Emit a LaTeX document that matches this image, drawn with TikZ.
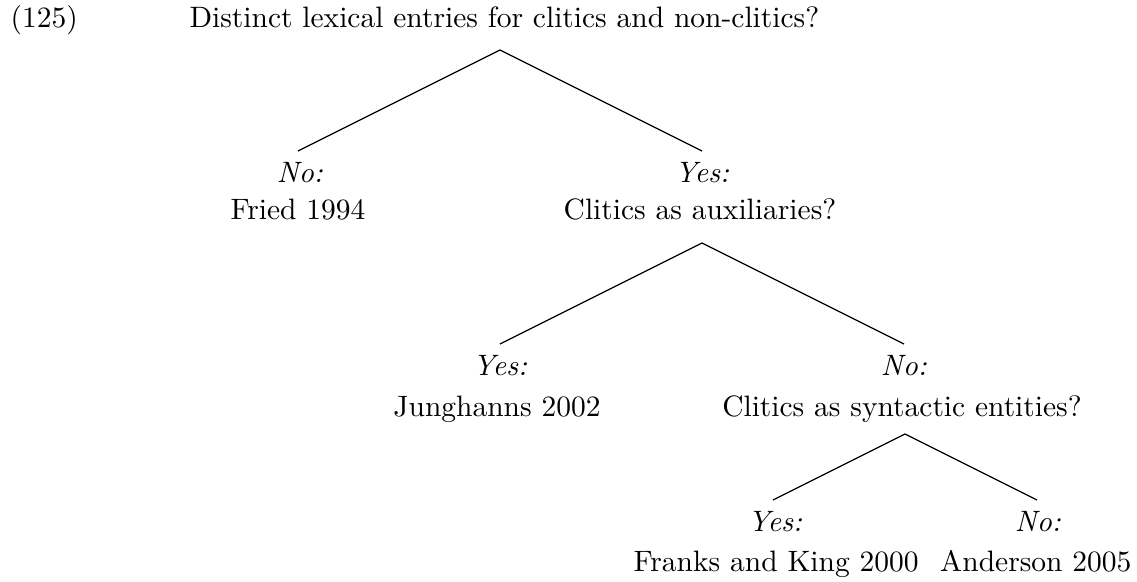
\documentclass[tikz,border=0pt]{standalone}
\begin{document}
\begin{tikzpicture}[x=0.339pt,y=-0.339pt,
  txt/.style={inner sep=0pt,anchor=base},
  lbl/.style={inner sep=0pt,anchor=base,font=\itshape},
  branch/.style={line width=0.4pt}]
\useasboundingbox (0,0) rectangle (1137,581);

% example number and root question
\node[txt,anchor=base west] (num) at (10,27) {(125)};
\node[txt,anchor=base west] (root) at (189,27) {Distinct lexical entries for clitics and non-clitics?};

% first split
\coordinate (top1) at (500,50);
\coordinate (endL1) at (298,151);
\coordinate (endR1) at (702,151);
\node[lbl] (no1) at (300,182) {No:};
\node[txt] (fried) at (298,219) {Fried 1994};
\node[lbl] (yes1) at (702,182) {Yes:};
\node[txt] (aux) at (700,219) {Clitics as auxiliaries?};
\draw[branch] (endL1) -- (top1) -- (endR1);

% second split
\coordinate (top2) at (702,243);
\coordinate (endL2) at (500,344);
\coordinate (endR2) at (904,344);
\node[lbl] (yes2) at (500,375) {Yes:};
\node[txt] (jung) at (497,416) {Junghanns 2002};
\node[lbl] (no2) at (904,375) {No:};
\node[txt] (synt) at (902,416) {Clitics as syntactic entities?};
\draw[branch] (endL2) -- (top2) -- (endR2);

% third split
\coordinate (top3) at (905,434);
\coordinate (endL3) at (773,500);
\coordinate (endR3) at (1037,500);
\node[lbl] (yes3) at (775,531) {Yes:};
\node[txt,anchor=base west] (franks) at (633,571) {Franks and King 2000};
\node[lbl] (no3) at (1038,531) {No:};
\node[txt,anchor=base east] (anders) at (1132,571) {Anderson 2005};
\draw[branch] (endL3) -- (top3) -- (endR3);
\end{tikzpicture}
\end{document}
